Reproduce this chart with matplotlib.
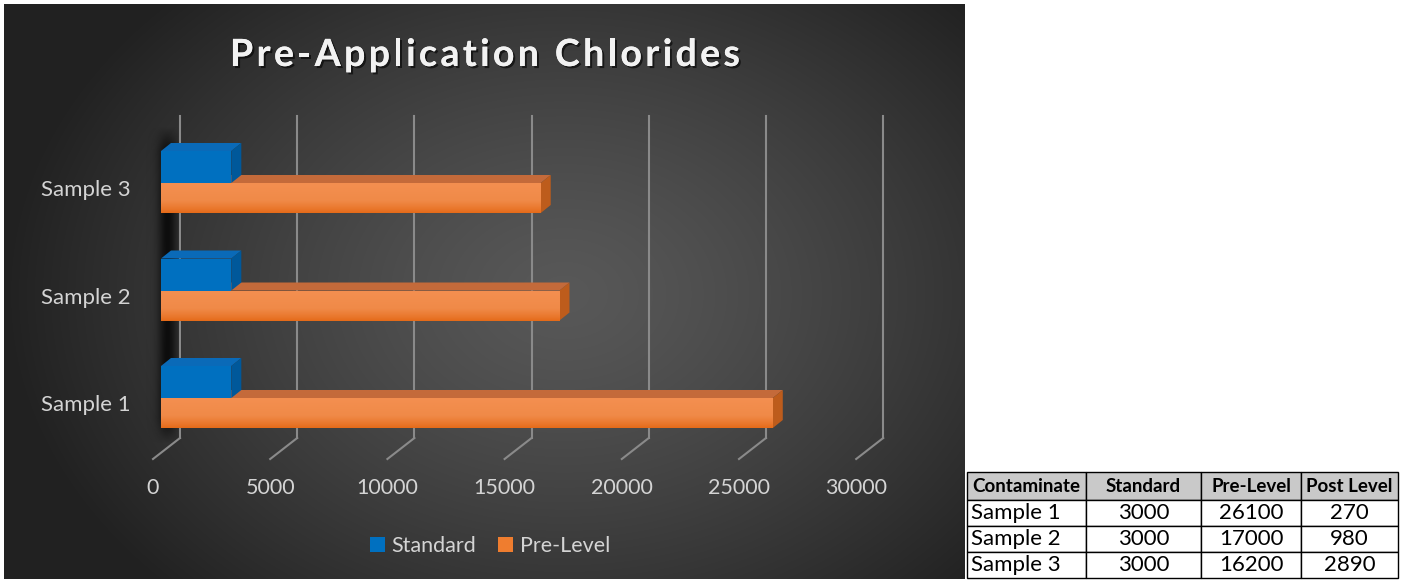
import numpy as np
import matplotlib
matplotlib.use("Agg")
import matplotlib.pyplot as plt
import matplotlib.patheffects as pe
from matplotlib.patches import Polygon, Patch
from matplotlib.colors import LinearSegmentedColormap
from matplotlib.table import Table

plt.rcParams['font.family'] = ['Lato', 'DejaVu Sans']

# data
samples = ["Sample 1", "Sample 2", "Sample 3"]
standard = [3000, 3000, 3000]
pre_level = [26100, 17000, 16200]
post_level = [270, 980, 2890]
x_ticks = [0, 5000, 10000, 15000, 20000, 25000, 30000]
table_header = ["Contaminate", "Standard", "Pre-Level", "Post Level"]
title = "Pre-Application Chlorides"

BLUE = "#0070c0"
BLUE_TOP = "#0a6ab8"
BLUE_SIDE = "#00589a"
ORANGE = "#ef7d2f"
ORANGE_TOP = "#c46a3a"
ORANGE_SIDE = "#bd5c1c"
TXT = "#d4d4d4"

W, H = 1404, 581
def fx(px):
    return px / W
def fy(py):
    return 1 - py / H

# pixel geometry of the fake 3d chart, converted to data units
PX_PER_UNIT = 117.2 / 5000
ROW_PX = 107.5
def dx(px):
    return px / PX_PER_UNIT
def dy(px):
    return px / ROW_PX

fig = plt.figure(figsize=(W / 100, H / 100), dpi=100)
fig.patch.set_facecolor("white")

# panel background (radial gradient)
pan = [fx(4), fy(579), 961 / W, 575 / H]
bg = fig.add_axes(pan, zorder=0)
yy, xx = np.mgrid[0:575, 0:961]
r = np.sqrt(((xx - 560) / 560.0) ** 2 + ((yy - 290) / 420.0) ** 2)
shade = 0.345 - (0.345 - 0.13) * np.clip(r, 0, 1) ** 1.3
bg.imshow(np.dstack([shade] * 3), extent=[0, 1, 0, 1], aspect="auto")
bg.axis("off")

ax = fig.add_axes(pan, zorder=1)
ax.set_facecolor("none")
ax.axis("off")
xlim = (dx(4 - 161), dx(965 - 161))
ylim = (dy(405 - 579), dy(405 - 4))

y = np.arange(len(samples))

# left wall shadow (soft)
sx = np.linspace(0, 1, 80)
sy = np.linspace(0, 1, 80)
alpha = 0.75 * np.exp(-((sx - 0.6) / 0.26) ** 2)
vfade = np.clip(np.minimum(sy / 0.08, (1 - sy) / 0.08), 0, 1)
shadow = np.zeros((80, 80, 4))
shadow[:, :, 3] = vfade[:, None] * alpha[None, :]
ax.imshow(shadow, extent=[dx(146 - 161), dx(182 - 161), dy(405 - 445), dy(405 - 125)],
          aspect="auto", zorder=1, interpolation="bilinear")

# back wall gridlines and floor lines
g_top, g_bot, f_bot = dy(405 - 116), dy(405 - 438), dy(405 - 459)
for t in x_ticks:
    ax.plot([t + dx(19), t + dx(19)], [g_bot, g_top], color="#8a8a8a", lw=1.5, zorder=2)
    ax.plot([t + dx(19), t + dx(-8)], [g_bot, f_bot], color="#8a8a8a", lw=1.5, zorder=2)
    ax.text(t + dx(-8), dy(405 - 488), str(t), color=TXT, fontsize=15.5,
            ha="center", va="center", zorder=5)

ddx, ddy = dx(10), dy(8)
o_bot, o_h = -dy(23), dy(30)
b_bot, b_h = dy(7), dy(32)

def box(v, yb, h, top_c, side_c, z):
    yt = yb + h
    ax.add_patch(Polygon([(0, yt), (v, yt), (v + ddx, yt + ddy), (ddx, yt + ddy)],
                         closed=True, facecolor=top_c, edgecolor="none", zorder=z))
    ax.add_patch(Polygon([(v, yb), (v, yt), (v + ddx, yt + ddy), (v + ddx, yb + ddy)],
                         closed=True, facecolor=side_c, edgecolor="none", zorder=z))

grad_cmap = LinearSegmentedColormap.from_list("og", ["#e56a18", "#f08a48", "#f48f50"])
for i, v in enumerate(pre_level):
    box(v, y[i] + o_bot, o_h, ORANGE_TOP, ORANGE_SIDE, 3)
bars_o = ax.barh(y + o_bot, pre_level, height=o_h, align="edge", color=ORANGE, zorder=3.5)
for p in bars_o:
    x0, y0 = p.get_x(), p.get_y()
    im = ax.imshow(np.linspace(0, 1, 50).reshape(-1, 1)[::-1] ** 0.8, cmap=grad_cmap,
                   extent=[x0, x0 + p.get_width(), y0, y0 + p.get_height()],
                   aspect="auto", zorder=3.6, origin="upper")
    im.set_clip_path(p)

for i, v in enumerate(standard):
    box(v, y[i] + b_bot, b_h, BLUE_TOP, BLUE_SIDE, 4)
ax.barh(y + b_bot, standard, height=b_h, align="edge", color=BLUE, zorder=4.5)

for i, name in enumerate(samples):
    ax.text(dx(131 - 161), y[i], name, color=TXT, fontsize=16, ha="right", va="center")

ax.set_xlim(*xlim)
ax.set_ylim(*ylim)

# title with wide letter spacing, placed char by char
renderer = fig.canvas.get_renderer()
def text_w(s):
    t = fig.text(0, 0, s + "|", fontsize=27, fontweight="bold")
    w = t.get_window_extent(renderer).width
    t.remove()
    return w - bar_w
bar_w = 0
bar_w = text_w("")
spacing = 3.4
full_w = text_w(title) + spacing * (len(title) - 1)
x_start = 485 - full_w / 2
shadow_fx = [pe.withSimplePatchShadow(offset=(1.5, -1.5), shadow_rgbFace="black", alpha=0.6),
             pe.Normal()]
for i, ch in enumerate(title):
    if ch == " ":
        continue
    px = x_start + text_w(title[:i]) + spacing * i
    fig.text(fx(px), fy(55), ch, color="#f2f2f2", fontsize=27, fontweight="bold",
             ha="left", va="center", path_effects=shadow_fx, zorder=5)

handles = [Patch(facecolor=BLUE), Patch(facecolor=ORANGE)]
ax.legend(handles, ["Standard", "Pre-Level"], loc="center", bbox_to_anchor=(fx(490), fy(546)),
          bbox_transform=fig.transFigure, ncol=2, frameon=False, handlelength=0.7,
          handleheight=0.7, handletextpad=0.3, columnspacing=1.0, fontsize=15.5,
          labelcolor=TXT)

# data table on the right
tax = fig.add_axes([fx(967), fy(578), (1398 - 967) / W, (578 - 472) / H], zorder=2)
tax.axis("off")
col_w = np.array([119, 115, 100, 97]) / 431
tbl = Table(tax, bbox=[0, 0, 1, 1])
for c, label in enumerate(table_header):
    cell = tbl.add_cell(0, c, col_w[c], 28, text=label, loc="center", facecolor="#c9c9c9")
    cell.get_text().set_fontweight("bold")
    cell.get_text().set_fontsize(13.5)
for r in range(len(samples)):
    vals = [samples[r], standard[r], pre_level[r], post_level[r]]
    for c, v in enumerate(vals):
        cell = tbl.add_cell(r + 1, c, col_w[c], 26, text=str(v),
                            loc="left" if c == 0 else "center", facecolor="white")
        cell.get_text().set_fontsize(16)
        if c == 0:
            cell.PAD = 0.03
tbl.auto_set_font_size(False)
for cell in tbl.get_celld().values():
    cell.set_linewidth(1.0)
    cell.set_edgecolor("black")
tax.add_table(tbl)

fig.savefig("out.png", dpi=100, facecolor="white")
